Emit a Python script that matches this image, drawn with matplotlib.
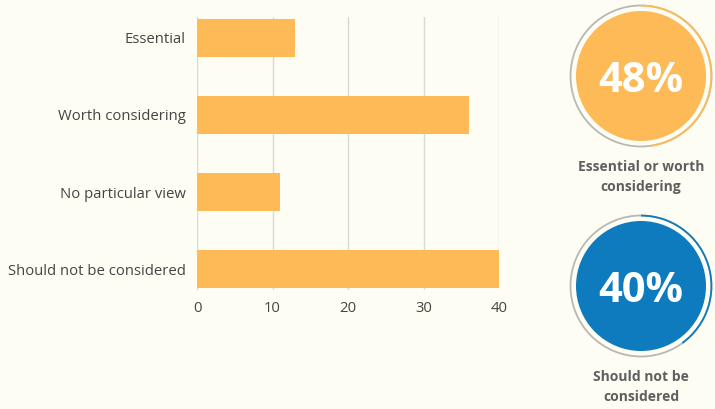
import matplotlib.pyplot as plt
from matplotlib.patches import Circle, Wedge

# survey answers (counts) and headline shares
categories = ["Essential", "Worth considering", "No particular view",
              "Should not be considered"]
counts = [13, 36, 11, 40]
x_ticks = [0, 10, 20, 30, 40]

share_values = [48, 40]
share_labels = ["Essential or worth\nconsidering", "Should not be\nconsidered"]

BG = "#fdfdf4"
ORANGE = "#fdba57"
BLUE = "#0e7bbf"
TEXT = "#444444"
CAPTION = "#5f5f5f"

plt.rcParams["font.family"] = ["Open Sans", "DejaVu Sans"]

fig = plt.figure(figsize=(7.15, 4.09), dpi=100, facecolor=BG)

# bar chart
ax = fig.add_axes([197 / 715, 1 - 290 / 409, 302 / 715, 273 / 409])
ax.set_facecolor(BG)
ax.barh(range(len(categories)), counts, height=0.49, color=ORANGE, zorder=3)
ax.set_ylim(3.27, -0.27)
ax.set_xlim(0, 40)
ax.set_yticks(range(len(categories)))
ax.set_yticklabels(categories, fontsize=10.7, color=TEXT)
ax.set_xticks(x_ticks)
ax.set_xticklabels([str(t) for t in x_ticks], fontsize=10.7, color=TEXT)
ax.tick_params(length=0, pad=8)
ax.tick_params(axis="y", pad=8)
ax.grid(axis="x", color="#d8d8d4", linewidth=1, zorder=0)
for s in ax.spines.values():
    s.set_visible(False)

# headline circles, drawn in pixel space
ov = fig.add_axes([0, 0, 1, 1])
ov.set_xlim(0, 715)
ov.set_ylim(409, 0)
ov.set_aspect("equal")
ov.axis("off")

centres = [(641, 76), (641, 286)]
fills = [ORANGE, BLUE]
caption_y = [177, 387]
for (cx, cy), pct, label, col, ly in zip(centres, share_values, share_labels,
                                         fills, caption_y):
    ov.add_patch(Circle((cx, cy), 70.5, fill=False, ec="#b8b8b4", lw=1.3))
    # progress arc clockwise from 12 o'clock (y axis is flipped)
    ov.add_patch(Wedge((cx, cy), 71.3, -90, -90 + 360 * pct / 100, width=1.8,
                       color=col, lw=0))
    ov.add_patch(Circle((cx, cy), 65, color=col, lw=0))
    ov.text(cx, cy + 5, f"{pct}%", ha="center", va="center", color="white",
            fontsize=30, fontweight="bold")
    ov.text(cx, ly, label, ha="center", va="center", color=CAPTION,
            fontsize=10, fontweight="bold", linespacing=1.5)

fig.savefig("out.png", dpi=100, facecolor=BG)
